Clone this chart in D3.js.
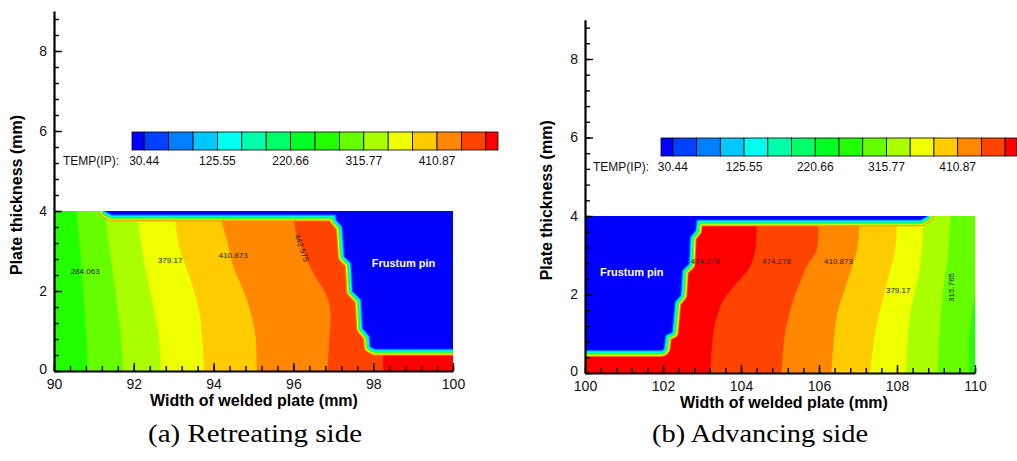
<!DOCTYPE html>
<html>
<head>
<meta charset="utf-8">
<script src="https://cdn.jsdelivr.net/npm/d3@7"></script>
<style>
  body { margin: 0; background: #fff; }
  svg { display: block; font-family: "Liberation Sans", Arial, sans-serif; }
</style>
</head>
<body>
<svg id="chart" width="1017" height="461"></svg>
<script>
// contour levels of TEMP(IP) and the colour of each band (below first level ... above last)
const tempLevels = [30.44, 62.14, 93.85, 125.55, 157.25, 188.96, 220.66, 252.36,
  284.06, 315.77, 347.47, 379.17, 410.87, 442.58, 474.28];
const levelColors = ["#0000ff", "#0040ff", "#0080ff", "#00c8ff", "#00ffee", "#00ffaa",
  "#00ff66", "#00ff22", "#22ff00", "#66ff00", "#aaff00", "#eeff00", "#ffcc00",
  "#ff8800", "#ff4400", "#ff0000"];
const legendTicks = [30.44, 125.55, 220.66, 315.77, 410.87];

// isolines, [width mm, thickness mm], top to bottom
const retreatingIsolines = [
  { level: 284.06, points: [[90.57, 4.0], [90.69, 2.62], [90.80, 0.95], [90.84, 0]] },
  { level: 315.77, points: [[91.30, 4.0], [91.30, 3.80], [91.45, 2.62], [91.57, 1.79], [91.67, 0.95], [91.74, 0]] },
  { level: 347.47, points: [[92.10, 4.0], [92.10, 3.80], [92.28, 2.62], [92.45, 1.79], [92.61, 0.95], [92.68, 0]] },
  { level: 379.17, points: [[93.03, 4.0], [93.03, 3.80], [93.16, 3.04], [93.45, 2.20], [93.66, 1.37], [93.76, 0]] },
  { level: 410.87, points: [[94.19, 4.0], [94.19, 3.80], [94.33, 3.29], [94.49, 2.62], [94.83, 1.79], [95.04, 0.95], [95.08, 0]] },
  { level: 442.58, points: [[96.02, 4.0], [96.02, 3.80], [96.07, 3.45], [96.41, 2.62], [96.87, 1.79], [96.93, 1.37], [96.90, 0.79], [96.85, 0]] },
  { level: 474.28, points: [[98.25, 0.6], [98.25, 0]] }
];

const advancingIsolines = [
  { level: 474.28, points: [[104.40, 4.0], [104.40, 3.77], [104.36, 3.13], [104.23, 2.71], [103.89, 2.29], [103.55, 1.86], [103.38, 1.43], [103.29, 1.01], [103.21, 0]] },
  { level: 442.58, points: [[105.98, 4.0], [105.98, 3.77], [105.94, 3.13], [105.68, 2.71], [105.51, 2.29], [105.34, 1.86], [105.13, 1.01], [105.04, 0]] },
  { level: 410.87, points: [[107.03, 4.0], [107.03, 3.77], [106.97, 3.13], [106.71, 2.29], [106.45, 1.43], [106.32, 0]] },
  { level: 379.17, points: [[107.99, 4.0], [107.99, 3.77], [107.95, 3.13], [107.74, 2.29], [107.44, 1.01], [107.31, 0]] },
  { level: 347.47, points: [[108.67, 4.0], [108.67, 3.77], [108.59, 2.71], [108.33, 1.43], [108.23, 0]] },
  { level: 315.77, points: [[109.36, 4.0], [109.32, 3.13], [109.15, 1.86], [109.04, 0]] },
  { level: 284.06, points: [[110.0, 2.03], [109.87, 1.01], [109.85, 0]] }
];

// tool (frustum pin + shoulder contact) outline
const retreatingPin = [[91.3, 4.3], [100.5, 4.3], [100.5, 0.56], [98.05, 0.56], [97.94, 0.62],
  [97.92, 0.87], [97.75, 1.08], [97.71, 1.79], [97.50, 2.00], [97.46, 2.70], [97.29, 2.87],
  [97.25, 3.45], [97.23, 3.62], [97.08, 3.79], [97.08, 3.92], [91.45, 3.92], [91.3, 4.0]];
const advancingPin = [[99.5, 4.3], [108.75, 4.3], [108.75, 4.0], [108.6, 3.92], [102.85, 3.92],
  [102.82, 3.64], [102.68, 3.47], [102.65, 2.79], [102.48, 2.62], [102.44, 1.99], [102.29, 1.82],
  [102.22, 1.05], [102.05, 0.97], [102.01, 0.63], [101.97, 0.59], [99.5, 0.59]];

const retreatingLabels = [
  { text: "284.063", x: 90.78, y: 2.50, angle: 0 },
  { text: "379.17", x: 92.91, y: 2.77, angle: 0 },
  { text: "410.873", x: 94.49, y: 2.90, angle: 0 },
  { text: "442.575", x: 96.21, y: 3.08, angle: 70 }
];
const advancingLabels = [
  { text: "474.278", x: 103.08, y: 2.86, angle: 0 },
  { text: "474.278", x: 104.91, y: 2.86, angle: 0 },
  { text: "410.873", x: 106.50, y: 2.86, angle: 0 },
  { text: "379.17", x: 108.03, y: 2.10, angle: 0 },
  { text: "315.765", x: 109.38, y: 2.18, angle: -90 }
];

const bandColors = ["#ff8800", "#eeff00", "#66ff00", "#00ff66", "#00ffee", "#00c8ff", "#0040ff"];

const svg = d3.select("#chart");

const drawPanel = props => {
  const { id, xDomain, xRange, yRange, isolines, rising, pin, labels, pinLabel,
    legend, yTitleX, xTitle, caption } = props;

  const x = d3.scaleLinear().domain(xDomain).range(xRange);
  const y = d3.scaleLinear().domain([0, 9]).range(yRange);
  const g = svg.append("g");

  g.append("clipPath")
    .attr("id", "clip-" + id)
    .append("rect")
    .attr("x", x(xDomain[0]))
    .attr("y", y(4))
    .attr("width", x(xDomain[1]) - x(xDomain[0]))
    .attr("height", y(0) - y(4));

  const field = g.append("g").attr("clip-path", `url(#clip-${id})`);

  // base band at the left edge
  const baseIdx = tempLevels.indexOf(isolines[0].level) + (rising ? 0 : 1);
  field
    .append("rect")
    .attr("x", x(xDomain[0]))
    .attr("y", y(4))
    .attr("width", x(xDomain[1]) - x(xDomain[0]))
    .attr("height", y(0) - y(4))
    .attr("fill", levelColors[baseIdx]);

  const curve = d3.line().x(d => x(d[0])).y(d => y(d[1])).curve(d3.curveCatmullRom);

  field
    .selectAll("path.band")
    .data(isolines)
    .enter()
    .append("path")
    .attr("class", "band")
    .attr("d", d => {
      const pts = d.points;
      const xe = x(xDomain[1]);
      return curve(pts) + `L${xe},${y(pts[pts.length - 1][1])}L${xe},${y(pts[0][1])}Z`;
    })
    .attr("fill", d => levelColors[tempLevels.indexOf(d.level) + (rising ? 1 : 0)]);

  // tool with its thin gradient rim
  const pinPath = d3.line().x(d => x(d[0])).y(d => y(d[1]))(pin) + "Z";
  field
    .selectAll("path.rim")
    .data(bandColors)
    .enter()
    .append("path")
    .attr("class", "rim")
    .attr("d", pinPath)
    .attr("fill", "none")
    .attr("stroke", d => d)
    .attr("stroke-width", (d, i) => (bandColors.length - i) * 2)
    .attr("stroke-linejoin", "round");
  field.append("path").attr("d", pinPath).attr("fill", levelColors[0]);

  field
    .selectAll("text.clabel")
    .data(labels)
    .enter()
    .append("text")
    .attr("class", "clabel")
    .attr("transform", d => `translate(${x(d.x)},${y(d.y)}) rotate(${d.angle})`)
    .attr("text-anchor", "middle")
    .attr("dy", "0.35em")
    .attr("font-size", 8)
    .attr("fill", "#222")
    .text(d => d.text);

  field
    .append("text")
    .attr("x", x(pinLabel[0]))
    .attr("y", y(pinLabel[1]))
    .attr("dy", "0.35em")
    .attr("text-anchor", "middle")
    .attr("font-size", 11)
    .attr("font-weight", "bold")
    .attr("fill", "#fff")
    .text("Frustum pin");

  // axes: minor ticks every 0.4, major every 2, ticks pointing inwards
  const styleAxis = sel => {
    sel.selectAll("line").attr("stroke", "#000").attr("stroke-width", 1.4);
    sel.select(".domain").attr("stroke", "#000").attr("stroke-width", 2.2);
    sel.selectAll("text").attr("font-size", 14).attr("fill", "#111")
      .attr("font-family", "'Liberation Sans', Arial, sans-serif");
  };

  g.append("g")
    .attr("transform", `translate(0,${y(0)})`)
    .call(d3.axisBottom(x).tickValues(d3.range(xDomain[0], xDomain[1] + 0.01, 0.4))
      .tickSize(-5).tickFormat(""))
    .call(s => s.select(".domain").remove())
    .call(styleAxis);
  g.append("g")
    .attr("transform", `translate(0,${y(0)})`)
    .call(d3.axisBottom(x).ticks(5).tickSize(-8).tickSizeOuter(0).tickPadding(8))
    .call(styleAxis);

  g.append("g")
    .attr("transform", `translate(${x(xDomain[0])},0)`)
    .call(d3.axisLeft(y).tickValues(d3.range(0, 8.9, 0.4)).tickSize(-5).tickFormat(""))
    .call(s => s.select(".domain").remove())
    .call(styleAxis);
  g.append("g")
    .attr("transform", `translate(${x(xDomain[0])},0)`)
    .call(d3.axisLeft(y).tickValues([0, 2, 4, 6, 8]).tickSize(-8).tickSizeOuter(0).tickPadding(7))
    .call(styleAxis)
    .call(s => s.selectAll(".tick text").filter(d => d === 0).attr("dy", "0.2em"));

  // titles
  g.append("text")
    .attr("transform", `translate(${yTitleX},${y(4.4)}) rotate(-90)`)
    .attr("text-anchor", "middle")
    .attr("font-size", 16)
    .attr("font-weight", "bold")
    .text("Plate thickness (mm)");
  g.append("text")
    .attr("x", xTitle[0])
    .attr("y", xTitle[1])
    .attr("text-anchor", "middle")
    .attr("font-size", 16)
    .attr("font-weight", "bold")
    .text("Width of welded plate (mm)");
  g.append("text")
    .attr("x", caption.x)
    .attr("y", 442)
    .attr("text-anchor", "middle")
    .attr("font-family", "'Liberation Serif', 'Times New Roman', serif")
    .attr("font-size", 26)
    .attr("textLength", caption.width)
    .attr("lengthAdjust", "spacingAndGlyphs")
    .text(caption.text);

  // colour legend
  const cellW = legend.w / 15;
  const lx = d3.scaleLinear()
    .domain([tempLevels[0], tempLevels[tempLevels.length - 1]])
    .range([legend.x + cellW / 2, legend.x + legend.w - cellW / 2]);
  const edges = [legend.x, ...tempLevels.map(lx), legend.x + legend.w];
  const lg = g.append("g");
  lg.selectAll("rect")
    .data(levelColors)
    .enter()
    .append("rect")
    .attr("x", (d, i) => edges[i])
    .attr("y", legend.y)
    .attr("width", (d, i) => edges[i + 1] - edges[i])
    .attr("height", legend.h)
    .attr("fill", d => d)
    .attr("stroke", "#000")
    .attr("stroke-width", 0.8);
  lg.selectAll("text.tick")
    .data(legendTicks)
    .enter()
    .append("text")
    .attr("class", "tick")
    .attr("x", d => lx(d))
    .attr("y", legend.y + legend.h + 15)
    .attr("text-anchor", "middle")
    .attr("font-size", 12)
    .attr("fill", "#111")
    .text(d => d.toFixed(2));
  lg.append("text")
    .attr("x", legend.labelX)
    .attr("y", legend.y + legend.h + 15)
    .attr("font-size", 12)
    .attr("fill", "#111")
    .text("TEMP(IP):");
};

drawPanel({
  id: "a",
  xDomain: [90, 100],
  xRange: [54, 453],
  yRange: [371, 11],
  isolines: retreatingIsolines,
  rising: true,
  pin: retreatingPin,
  labels: retreatingLabels,
  pinLabel: [98.76, 2.69],
  legend: { x: 132, y: 132, w: 366, h: 18, labelX: 63 },
  yTitleX: 22,
  xTitle: [254, 406],
  caption: { x: 255, width: 214, text: "(a) Retreating side" }
});

drawPanel({
  id: "b",
  xDomain: [100, 110],
  xRange: [585, 975],
  yRange: [373, 19.75],
  isolines: advancingIsolines,
  rising: false,
  pin: advancingPin,
  labels: advancingLabels,
  pinLabel: [101.20, 2.58],
  legend: { x: 661, y: 138, w: 356, h: 18, labelX: 593 },
  yTitleX: 552,
  xTitle: [784, 408],
  caption: { x: 760, width: 216, text: "(b) Advancing side" }
});
</script>
</body>
</html>
